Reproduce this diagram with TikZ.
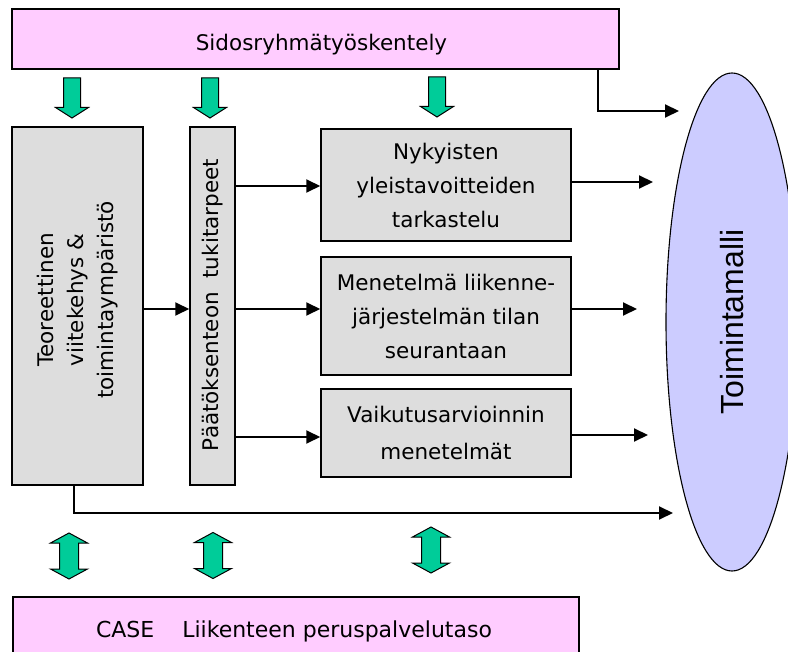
\documentclass[tikz,border=0pt]{standalone}
\usepackage{fontspec}
\setmainfont{DejaVu Sans}
\newfontfamily\modelfont{Liberation Sans}
\usetikzlibrary{arrows.meta,shapes.geometric}

\definecolor{pinkfill}{HTML}{FFCCFF}
\definecolor{greyfill}{HTML}{DDDDDD}
\definecolor{lilacfill}{HTML}{CCCCFF}
\definecolor{blockgreen}{HTML}{00CC99}

\tikzset{
  boxtext/.style={font=\fontsize{21.5}{34}\selectfont, text=black},
  pinkbox/.style={draw=black, line width=1.3pt, fill=pinkfill, inner sep=0pt},
  greybox/.style={draw=black, line width=1.5pt, fill=greyfill, inner sep=0pt,
                  boxtext, align=center},
  conn/.style={line width=2pt, -{Triangle[length=14pt,width=13pt]}},
  greenarrow/.style={draw=black, line width=1pt, fill=blockgreen, line join=miter},
  downarr/.pic={
    \path[greenarrow] (-8.5,0) -- (8.5,0) -- (8.5,29.5) -- (16.5,29.5) -- (0,40)
      -- (-16.5,29.5) -- (-8.5,29.5) -- cycle;
  },
  updownarr/.pic={
    \path[greenarrow] (0,-23) -- (18.5,-13) -- (9.5,-13) -- (9.5,13) -- (18.5,13)
      -- (0,23) -- (-18.5,13) -- (-9.5,13) -- (-9.5,-13) -- (-18.5,-13) -- cycle;
  }
}

\begin{document}
\begin{tikzpicture}[x=1pt, y=-1pt]
  \useasboundingbox (0,0) rectangle (788,652);

  % stakeholder work band on top
  \node[pinkbox, minimum width=607, minimum height=60] (top) at (315.5,39) {};
  \node[boxtext, anchor=base] (toptext) at (321.5,50.7) {Sidosryhmätyöskentely};

  % case band at the bottom
  \node[pinkbox, minimum width=566, minimum height=80] (bottom) at (296,637) {};
  \node[boxtext, anchor=base, font=\fontsize{22}{34}\selectfont] (bottomtext)
        at (294,637.7) {CASE\hspace{28pt}Liikenteen peruspalvelutaso};

  % operating model
  \node[draw=black, line width=1.1pt, fill=lilacfill, ellipse, inner sep=0pt,
        minimum width=132, minimum height=498] (model) at (732,322) {};
  \node[rotate=90, font=\modelfont\fontsize{32}{36}\selectfont] (modeltext)
        at (model.center) {Toimintamalli};

  % theory framework column
  \node[greybox, minimum width=131, minimum height=358] (teor) at (77.5,306) {};
  \node[rotate=90, boxtext, align=center, font=\fontsize{21.5}{30}\selectfont]
        (teortext) at (78,300) {Teoreettinen\\viitekehys \&\\toimintaympäristö};

  % decision support needs column
  \node[greybox, minimum width=45, minimum height=358] (pdt) at (212.5,306) {};
  \node[rotate=90, boxtext] (pdttext) at (213,305) {Päätöksenteon\ \ tukitarpeet};

  % method boxes
  \node[greybox, minimum width=250, minimum height=112] (box1) at (446,185)
        {Nykyisten\\yleistavoitteiden\\tarkastelu};
  \node[greybox, minimum width=250, minimum height=118] (box2) at (446,316)
        {Menetelmä liikenne-\\järjestelmän tilan\\seurantaan};
  \node[greybox, minimum width=250, minimum height=88,
        font=\fontsize{21.5}{37}\selectfont] (box3) at (446,433)
        {Vaikutusarvioinnin\\menetelmät};

  % free ends of the arrows towards the model
  \coordinate (tin) at (679,111);
  \coordinate (o1) at (653,182);
  \coordinate (o2) at (637,309);
  \coordinate (o3) at (648,435);
  \coordinate (o4) at (673,513);

  % connectors
  \draw[conn] (top.south -| 598,0) |- (tin);
  \draw[conn] (box1.east |- 0,182) -- (o1);
  \draw[conn] (box2.east |- 0,309) -- (o2);
  \draw[conn] (box3.east |- 0,435) -- (o3);
  \draw[conn] (teor.south -| 74,0) |- (o4);
  \draw[conn] (teor.east |- 0,309) -- (pdt.west |- 0,309);
  \draw[conn] (pdt.east |- 0,186) -- (box1.west |- 0,186);
  \draw[conn] (pdt.east |- 0,309) -- (box2.west |- 0,309);
  \draw[conn] (pdt.east |- 0,437) -- (box3.west |- 0,437);

  % green block arrows
  \pic at (72,78) {downarr};
  \pic at (210,78) {downarr};
  \pic at (437,77) {downarr};
  \pic at (69,556) {updownarr};
  \pic at (213,555.5) {updownarr};
  \pic at (431,550) {updownarr};
\end{tikzpicture}
\end{document}
